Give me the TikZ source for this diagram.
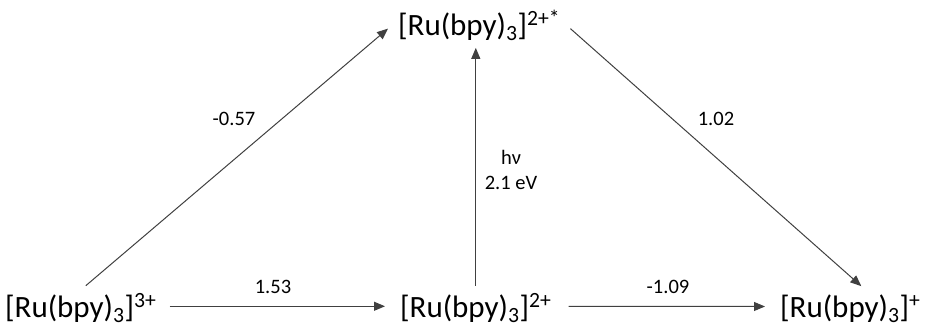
\documentclass[tikz,border=0pt]{standalone}
\usepackage{fontspec}
\setmainfont{Carlito}
\usetikzlibrary{arrows.meta,calc}
\begin{document}
\begin{tikzpicture}[x=1pt,y=-1pt,
  species/.style={inner sep=0pt, font=\fontsize{31}{31}\selectfont, anchor=base west},
  lab/.style={inner sep=0pt, font=\fontsize{20.5}{25}\selectfont, align=center},
  arr/.style={draw=black!75, line width=1pt, -{Triangle[length=11pt,width=9pt]}}]
\useasboundingbox (0,0) rectangle (928,327);
\node[species] (t) at (398,35) {[Ru(bpy)\textsubscript{3}]\textsuperscript{2+*}};
\node[species] (l) at (5,317) {[Ru(bpy)\textsubscript{3}]\textsuperscript{3+}};
\node[species] (m) at (400,317) {[Ru(bpy)\textsubscript{3}]\textsuperscript{2+}};
\node[species] (r) at (780,317) {[Ru(bpy)\textsubscript{3}]\textsuperscript{+}};
\draw[arr] ([shift={(5,-8)}]l.north) -- ([shift={(-10,3)}]t.west);
\draw[arr] ([shift={(13,-2)}]l.east) -- ([shift={(-15,-2)}]m.west);
\draw[arr] ([shift={(0,-8)}]m.north) -- ([shift={(0,7)}]m.north |- t.south);
\draw[arr] ([shift={(10,3)}]t.east) -- ([shift={(11,-8)}]r.north);
\draw[arr] ([shift={(17,-2)}]m.east) -- ([shift={(-15,-2)}]r.west);
\node[lab] (a) at (234,119) {-0.57};
\node[lab] (b) at (273,287) {1.53};
\node[lab] (c) at (511,170) {hν\\2.1 eV};
\node[lab] (d) at (716,119) {1.02};
\node[lab] (e) at (668,287) {-1.09};
\end{tikzpicture}
\end{document}
